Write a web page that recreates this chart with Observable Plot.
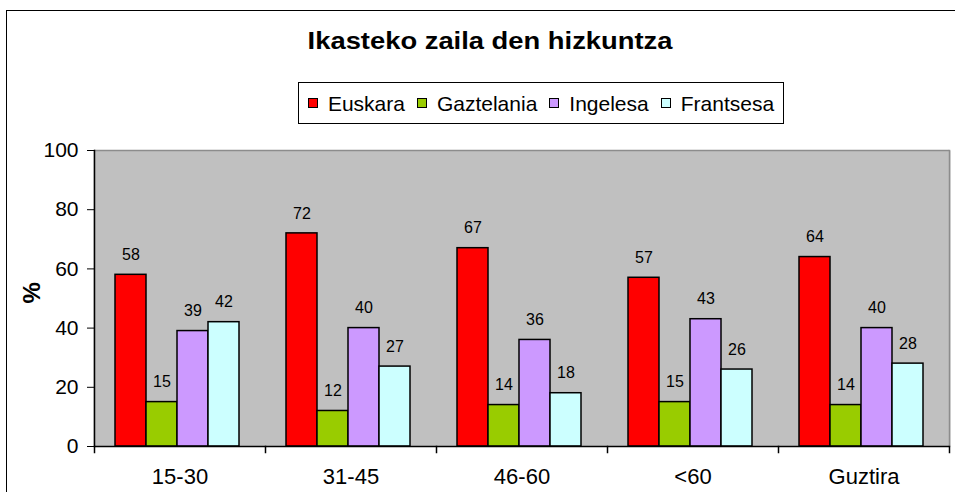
<!DOCTYPE html>
<html>
<head>
<meta charset="utf-8">
<script src="https://cdn.jsdelivr.net/npm/d3@7"></script>
<script src="https://cdn.jsdelivr.net/npm/@observablehq/plot@0.6"></script>
<style>
  html, body { margin: 0; padding: 0; }
  body { width: 955px; height: 492px; overflow: hidden; background: #fff; position: relative;
         font-family: "Liberation Sans", Arial, sans-serif; color: #000; }
  #frame { position: absolute; left: 6px; top: 10px; width: 1200px; height: 1200px; border: 1.5px solid #000; box-sizing: border-box; }
  #title { position: absolute; left: 0; top: 29px; width: 980px; text-align: center; line-height: 1; }
  #title span { display: inline-block; font-weight: bold; font-size: 24px; transform: scaleX(1.14); }
  #legend { position: absolute; left: 298px; top: 82px; width: 486px; height: 42px; border: 1px solid #000;
            box-sizing: border-box; display: flex; align-items: center; justify-content: center; background: #fff; }
  .item { display: flex; align-items: center; margin: 0 6px; font-size: 21px; line-height: 1; }
  .sw { width: 10px; height: 10px; border: 1px solid #000; box-sizing: border-box; margin-right: 10px; }
  #chart { position: absolute; left: 0; top: 130px; }
</style>
</head>
<body>
<div id="frame"></div>
<div id="title"><span>Ikasteko zaila den hizkuntza</span></div>
<div id="legend"></div>
<div id="chart"></div>
<script>
const categories = ["15-30", "31-45", "46-60", "<60", "Guztira"];
const series = ["Euskara", "Gaztelania", "Ingelesa", "Frantsesa"];
const colors = ["#FF0000", "#99CC00", "#CC99FF", "#CCFFFF"];
const euskara    = [58, 72, 67, 57, 64];
const gaztelania = [15, 12, 14, 15, 14];
const ingelesa   = [39, 40, 36, 43, 40];
const frantsesa  = [42, 27, 18, 26, 28];
const yTicks = [0, 20, 40, 60, 80, 100];
const yLabel = "%";

const seriesValues = [euskara, gaztelania, ingelesa, frantsesa];
const data = categories.flatMap((c, i) =>
  series.map((s, k) => ({cat: c, series: s, value: seriesValues[k][i]})));

// legend
const legend = document.getElementById("legend");
series.forEach((s, k) => {
  const it = document.createElement("div");
  it.className = "item";
  const sw = document.createElement("div");
  sw.className = "sw";
  sw.style.background = colors[k];
  it.appendChild(sw);
  const t = document.createElement("span");
  t.textContent = s;
  it.appendChild(t);
  legend.appendChild(it);
});

const font = "'Liberation Sans', Arial, sans-serif";
const plot = Plot.plot({
  width: 955,
  height: 362,
  marginLeft: 93,
  marginRight: 5,
  marginTop: 20,
  marginBottom: 46,
  style: {fontFamily: font, fontSize: "16px", color: "#000", background: "transparent", overflow: "visible"},
  fx: {domain: categories, padding: 0, label: null},
  x: {domain: series, paddingInner: 0, paddingOuter: 0.72, align: 0.45, axis: null},
  y: {domain: [0, 100]},
  color: {domain: series, range: colors},
  marks: [
    Plot.frame({fill: "#C0C0C0", stroke: null, insetLeft: -1, insetRight: -1}),
    Plot.ruleY([100], {stroke: "#8c8c8c", strokeWidth: 1.5}),
    Plot.frame({anchor: "right", stroke: "#8c8c8c", strokeWidth: 1.5, facetAnchor: "right"}),
    Plot.barY(data, {fx: "cat", x: "series", y: "value", fill: "series", stroke: "#000", strokeWidth: 1.5}),
    Plot.text(data, {fx: "cat", x: "series", y: "value", text: d => String(d.value), dy: -20, fontSize: 16, fill: "#000"}),
    Plot.ruleY([0], {stroke: "#000", strokeWidth: 1.5}),
    Plot.frame({anchor: "left", stroke: "#000", strokeWidth: 1.5, facetAnchor: "left"}),
    Plot.frame({anchor: "left", stroke: "#000", strokeWidth: 1.5, insetTop: 296, insetBottom: -6}),
    Plot.frame({anchor: "right", stroke: "#000", strokeWidth: 1.5, insetTop: 296, insetBottom: -6, facetAnchor: "right"}),
    Plot.axisY({ticks: yTicks, tickSize: 7, tickPadding: 9, fontSize: 21, label: null, stroke: "#000"}),
    Plot.text([yLabel], {frameAnchor: "left", dx: -62, dy: 5, rotate: -90, fontSize: 24, fontWeight: "bold", facetAnchor: "left", fill: "#000"}),
    Plot.axisFx({anchor: "bottom", tickSize: 0, tickPadding: 22, fontSize: 22, label: null})
  ]
});
document.getElementById("chart").appendChild(plot);
</script>
</body>
</html>
